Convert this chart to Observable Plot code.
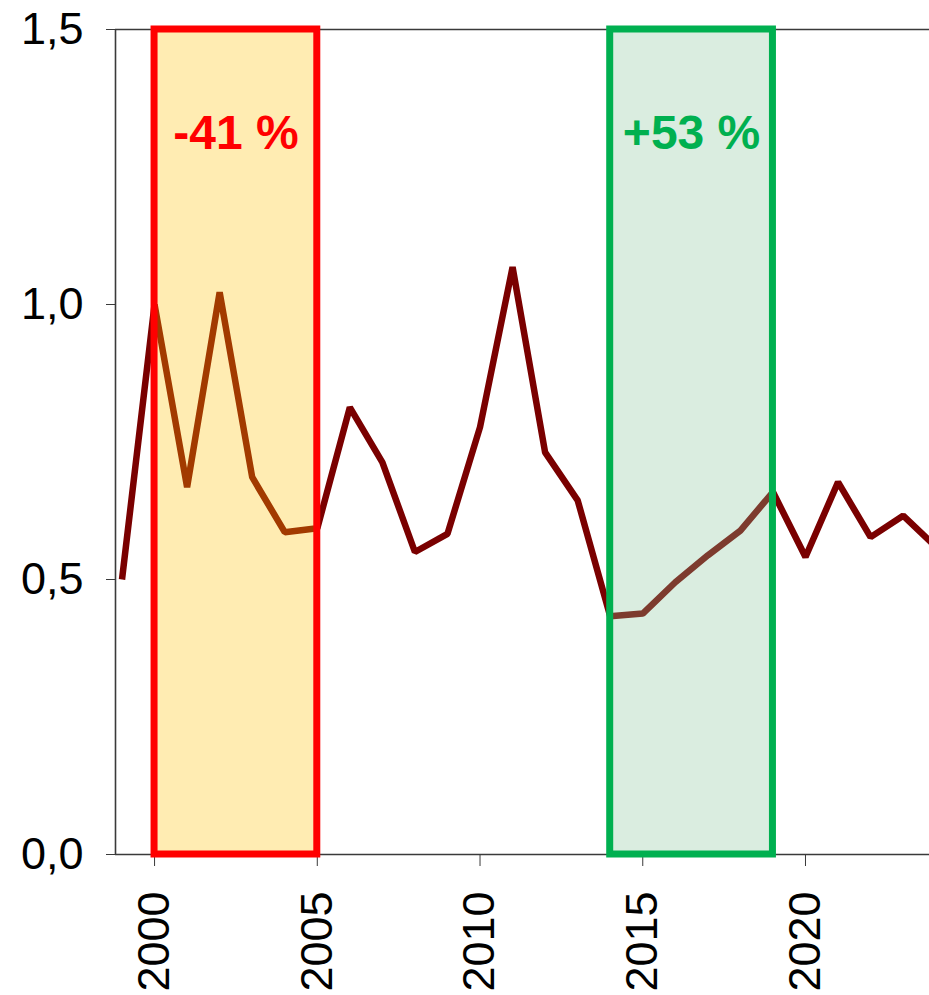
<!DOCTYPE html>
<html>
<head>
<meta charset="utf-8">
<script src="https://cdn.jsdelivr.net/npm/d3@7"></script>
<script src="https://cdn.jsdelivr.net/npm/@observablehq/plot@0.6"></script>
<style>
  html, body { margin: 0; padding: 0; background: #fff; }
  #chart svg { display: block; }
</style>
</head>
<body>
<div id="chart"></div>
<script>
// ---- data ----
const years = [1999, 2000, 2001, 2002, 2003, 2004, 2005, 2006, 2007, 2008, 2009, 2010, 2011, 2012,
               2013, 2014, 2015, 2016, 2017, 2018, 2019, 2020, 2021, 2022, 2023, 2024];
const values = [0.50, 1.00, 0.668, 1.022, 0.686, 0.586, 0.593, 0.813, 0.713, 0.550, 0.583, 0.777, 1.068, 0.731,
                0.644, 0.433, 0.438, 0.495, 0.544, 0.589, 0.659, 0.541, 0.677, 0.577, 0.616, 0.560];
const boxStart = [2000, 2014];
const boxEnd = [2005, 2019];
const boxLabels = ["-41 %", "+53 %"];
const xTicks = [2000, 2005, 2010, 2015, 2020];
const yTicks = [0, 0.5, 1.0, 1.5];

// ---- build ----
const series = years.map((y, i) => ({year: y, value: values[i]}));
const boxes = boxStart.map((s, i) => ({start: s, end: boxEnd[i], label: boxLabels[i]}));
const boxFill = ["#FFC000", "#84C398"];
const boxStroke = ["#FF0000", "#00B050"];
const xDomain = [1998.8, 2023.81];
const font = "'Liberation Sans', Arial, sans-serif";
const axisColor = "#3a3a3a";

const chart = Plot.plot({
  width: 929,
  height: 995,
  marginLeft: 115,
  marginRight: 0,
  marginTop: 29,
  marginBottom: 141,
  style: {fontFamily: font, fontSize: "45px", color: "#000", background: "#fff", overflow: "visible"},
  x: {domain: xDomain, label: null},
  y: {domain: [0, 1.5], label: null},
  marks: [
    Plot.ruleY([1.5], {stroke: axisColor, strokeWidth: 1.6}),
    Plot.ruleY([0], {stroke: axisColor, strokeWidth: 1.6}),
    Plot.ruleX([xDomain[0]], {stroke: axisColor, strokeWidth: 1.6}),
    Plot.axisY({ticks: yTicks, tickFormat: d => d.toFixed(1).replace(".", ","), tickSize: 9, tickPadding: 23,
      fontSize: 45, stroke: axisColor, fill: "#000", label: null}),
    Plot.axisX({ticks: xTicks, tickFormat: d => String(d), tickRotate: -90, tickSize: 12, tickPadding: 25,
      fontSize: 45, stroke: axisColor, fill: "#000", label: null}),
    Plot.line(series, {x: "year", y: "value", stroke: "#7a0000", strokeWidth: 6.5,
      strokeLinejoin: "miter", strokeLinecap: "butt", clip: true}),
    Plot.rect(boxes, {x1: "start", x2: "end", y1: 0, y2: 1.5,
      fill: (d, i) => boxFill[i], fillOpacity: 0.3}),
    Plot.rect(boxes, {x1: "start", x2: "end", y1: 0, y2: 1.5,
      fill: "none", stroke: (d, i) => boxStroke[i], strokeWidth: 7}),
    Plot.text(boxes, {x: d => (d.start + d.end) / 2, y: 1.311, text: "label",
      fill: (d, i) => boxStroke[i], fontSize: 48, fontWeight: "bold", textAnchor: "middle"})
  ]
});
document.getElementById("chart").appendChild(chart);
</script>
</body>
</html>
